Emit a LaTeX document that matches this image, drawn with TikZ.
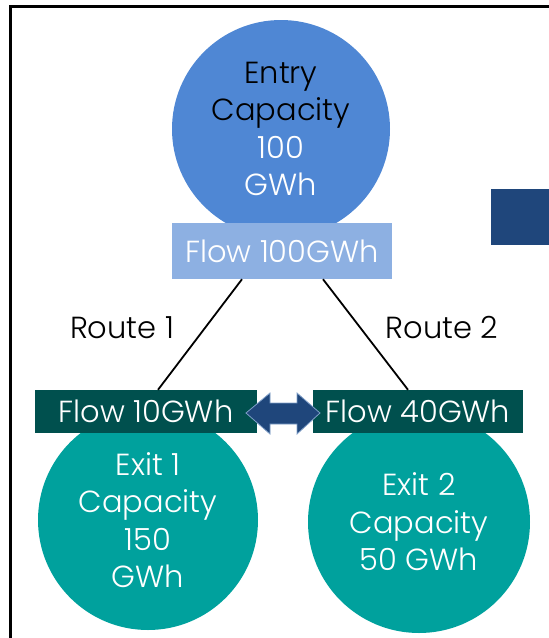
\documentclass[tikz,border=0pt]{standalone}
\usepackage{fontspec}
\setmainfont{Poppins}[UprightFont=* Light]
\usetikzlibrary{calc}
\definecolor{entryblue}{RGB}{79,135,212}
\definecolor{flowblue}{RGB}{141,176,226}
\definecolor{darkteal}{RGB}{0,80,78}
\definecolor{teal}{RGB}{0,161,157}
\definecolor{navy}{RGB}{31,70,123}
\definecolor{navyedge}{RGB}{127,159,200}
\begin{document}
\begin{tikzpicture}[x=1pt,y=-1pt,
  txt/.style={font=\fontsize{30.5}{37.5}\selectfont},
  bubble/.style={circle,inner sep=0pt,txt,align=center},
  flowbox/.style={rectangle,inner sep=0pt,txt,text=white},
  conn/.style={draw=black,line width=1.8pt}]
\useasboundingbox (0,0) rectangle (549,638);
\draw[line width=3pt] (10,6) rectangle (600,700);
\fill[navy] (491,189) rectangle (560,245);
% circles
\node[bubble,fill=entryblue,minimum size=218pt] (entry) at (281,129)
  {Entry\\Capacity\\\textcolor{white}{100}\\\textcolor{white}{GWh}};
\node[bubble,fill=teal,minimum size=220pt,text=white] (exit1) at (148,520)
  {Exit 1\\Capacity\\150\\GWh};
\node[bubble,fill=teal,minimum size=222pt,text=white] (exit2) at (419,522)
  {Exit 2\\Capacity\\50 GWh};
% flow boxes
\node[flowbox,fill=flowblue,minimum width=220pt,minimum height=56pt] (f100) at (282,251) {Flow 100GWh};
\node[flowbox,fill=darkteal,minimum width=222pt,minimum height=43pt] (f10) at (146,411.5) {Flow 10GWh};
\node[flowbox,fill=darkteal,minimum width=210pt,minimum height=43pt] (f40) at (418,411.5) {Flow 40GWh};
% connectors
\coordinate (r1a) at ([xshift=-40pt]f100.south);
\coordinate (r1b) at ([xshift=12pt]f10.north);
\coordinate (r2a) at ([xshift=41pt]f100.south);
\coordinate (r2b) at ([xshift=-10pt]f40.north);
\draw[conn] (r1a) -- (r1b);
\draw[conn] (r2a) -- (r2b);
\node[txt] (route1) at (122,328) {Route 1};
\node[txt] (route2) at (442,328) {Route 2};
% double arrow
\coordinate (dl) at (246,413);
\coordinate (dr) at (320,413);
\filldraw[fill=navy,draw=navyedge,line width=0.8pt]
  (dl) -- (270,393) -- (270,403) -- (297,403) -- (297,393) -- (dr)
  -- (297,434) -- (297,424) -- (270,424) -- (270,434) -- cycle;
\end{tikzpicture}
\end{document}
